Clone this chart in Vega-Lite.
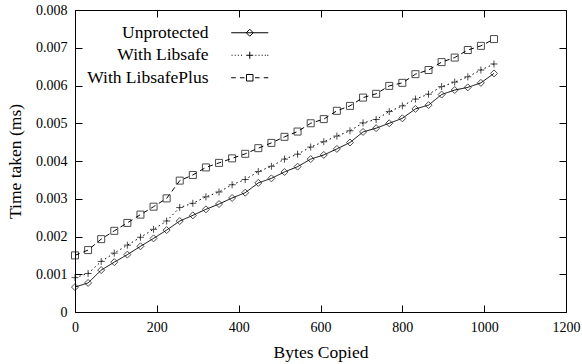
{
  "$schema": "https://vega.github.io/schema/vega-lite/v6.json",
  "width": 491,
  "height": 302,
  "autosize": {"type": "none"},
  "padding": {"left": 75, "top": 10, "right": 16, "bottom": 52},
  "background": "white",
  "data": {"values": [
    {"series": "Unprotected", "bytes": 0, "time": 0.00066},
    {"series": "Unprotected", "bytes": 32, "time": 0.00077},
    {"series": "Unprotected", "bytes": 64, "time": 0.00111},
    {"series": "Unprotected", "bytes": 96, "time": 0.00132},
    {"series": "Unprotected", "bytes": 128, "time": 0.00152},
    {"series": "Unprotected", "bytes": 160, "time": 0.00174},
    {"series": "Unprotected", "bytes": 192, "time": 0.00195},
    {"series": "Unprotected", "bytes": 224, "time": 0.00217},
    {"series": "Unprotected", "bytes": 256, "time": 0.00241},
    {"series": "Unprotected", "bytes": 288, "time": 0.00256},
    {"series": "Unprotected", "bytes": 320, "time": 0.00272},
    {"series": "Unprotected", "bytes": 352, "time": 0.00286},
    {"series": "Unprotected", "bytes": 384, "time": 0.00302},
    {"series": "Unprotected", "bytes": 416, "time": 0.00316},
    {"series": "Unprotected", "bytes": 448, "time": 0.00342},
    {"series": "Unprotected", "bytes": 480, "time": 0.00354},
    {"series": "Unprotected", "bytes": 512, "time": 0.00371},
    {"series": "Unprotected", "bytes": 544, "time": 0.00385},
    {"series": "Unprotected", "bytes": 576, "time": 0.00405},
    {"series": "Unprotected", "bytes": 608, "time": 0.00416},
    {"series": "Unprotected", "bytes": 640, "time": 0.00432},
    {"series": "Unprotected", "bytes": 672, "time": 0.00449},
    {"series": "Unprotected", "bytes": 704, "time": 0.00477},
    {"series": "Unprotected", "bytes": 736, "time": 0.00487},
    {"series": "Unprotected", "bytes": 768, "time": 0.00500},
    {"series": "Unprotected", "bytes": 800, "time": 0.00513},
    {"series": "Unprotected", "bytes": 832, "time": 0.00538},
    {"series": "Unprotected", "bytes": 864, "time": 0.00548},
    {"series": "Unprotected", "bytes": 896, "time": 0.00576},
    {"series": "Unprotected", "bytes": 928, "time": 0.00588},
    {"series": "Unprotected", "bytes": 960, "time": 0.00595},
    {"series": "Unprotected", "bytes": 992, "time": 0.00607},
    {"series": "Unprotected", "bytes": 1024, "time": 0.00632},
    {"series": "With Libsafe", "bytes": 0, "time": 0.00091},
    {"series": "With Libsafe", "bytes": 32, "time": 0.00102},
    {"series": "With Libsafe", "bytes": 64, "time": 0.00134},
    {"series": "With Libsafe", "bytes": 96, "time": 0.00156},
    {"series": "With Libsafe", "bytes": 128, "time": 0.00177},
    {"series": "With Libsafe", "bytes": 160, "time": 0.00198},
    {"series": "With Libsafe", "bytes": 192, "time": 0.00219},
    {"series": "With Libsafe", "bytes": 224, "time": 0.00241},
    {"series": "With Libsafe", "bytes": 256, "time": 0.00277},
    {"series": "With Libsafe", "bytes": 288, "time": 0.00288},
    {"series": "With Libsafe", "bytes": 320, "time": 0.00305},
    {"series": "With Libsafe", "bytes": 352, "time": 0.00318},
    {"series": "With Libsafe", "bytes": 384, "time": 0.00337},
    {"series": "With Libsafe", "bytes": 416, "time": 0.00351},
    {"series": "With Libsafe", "bytes": 448, "time": 0.00372},
    {"series": "With Libsafe", "bytes": 480, "time": 0.00386},
    {"series": "With Libsafe", "bytes": 512, "time": 0.00405},
    {"series": "With Libsafe", "bytes": 544, "time": 0.00418},
    {"series": "With Libsafe", "bytes": 576, "time": 0.00437},
    {"series": "With Libsafe", "bytes": 608, "time": 0.00451},
    {"series": "With Libsafe", "bytes": 640, "time": 0.00466},
    {"series": "With Libsafe", "bytes": 672, "time": 0.00480},
    {"series": "With Libsafe", "bytes": 704, "time": 0.00501},
    {"series": "With Libsafe", "bytes": 736, "time": 0.00510},
    {"series": "With Libsafe", "bytes": 768, "time": 0.00531},
    {"series": "With Libsafe", "bytes": 800, "time": 0.00546},
    {"series": "With Libsafe", "bytes": 832, "time": 0.00564},
    {"series": "With Libsafe", "bytes": 864, "time": 0.00577},
    {"series": "With Libsafe", "bytes": 896, "time": 0.00597},
    {"series": "With Libsafe", "bytes": 928, "time": 0.00609},
    {"series": "With Libsafe", "bytes": 960, "time": 0.00623},
    {"series": "With Libsafe", "bytes": 992, "time": 0.00641},
    {"series": "With Libsafe", "bytes": 1024, "time": 0.00657},
    {"series": "With LibsafePlus", "bytes": 0, "time": 0.00150},
    {"series": "With LibsafePlus", "bytes": 32, "time": 0.00164},
    {"series": "With LibsafePlus", "bytes": 64, "time": 0.00193},
    {"series": "With LibsafePlus", "bytes": 96, "time": 0.00215},
    {"series": "With LibsafePlus", "bytes": 128, "time": 0.00236},
    {"series": "With LibsafePlus", "bytes": 160, "time": 0.00258},
    {"series": "With LibsafePlus", "bytes": 192, "time": 0.00279},
    {"series": "With LibsafePlus", "bytes": 224, "time": 0.00301},
    {"series": "With LibsafePlus", "bytes": 256, "time": 0.00348},
    {"series": "With LibsafePlus", "bytes": 288, "time": 0.00363},
    {"series": "With LibsafePlus", "bytes": 320, "time": 0.00383},
    {"series": "With LibsafePlus", "bytes": 352, "time": 0.00395},
    {"series": "With LibsafePlus", "bytes": 384, "time": 0.00407},
    {"series": "With LibsafePlus", "bytes": 416, "time": 0.00419},
    {"series": "With LibsafePlus", "bytes": 448, "time": 0.00434},
    {"series": "With LibsafePlus", "bytes": 480, "time": 0.00448},
    {"series": "With LibsafePlus", "bytes": 512, "time": 0.00464},
    {"series": "With LibsafePlus", "bytes": 544, "time": 0.00478},
    {"series": "With LibsafePlus", "bytes": 576, "time": 0.00500},
    {"series": "With LibsafePlus", "bytes": 608, "time": 0.00511},
    {"series": "With LibsafePlus", "bytes": 640, "time": 0.00533},
    {"series": "With LibsafePlus", "bytes": 672, "time": 0.00546},
    {"series": "With LibsafePlus", "bytes": 704, "time": 0.00568},
    {"series": "With LibsafePlus", "bytes": 736, "time": 0.00578},
    {"series": "With LibsafePlus", "bytes": 768, "time": 0.00599},
    {"series": "With LibsafePlus", "bytes": 800, "time": 0.00607},
    {"series": "With LibsafePlus", "bytes": 832, "time": 0.00630},
    {"series": "With LibsafePlus", "bytes": 864, "time": 0.00641},
    {"series": "With LibsafePlus", "bytes": 896, "time": 0.00662},
    {"series": "With LibsafePlus", "bytes": 928, "time": 0.00674},
    {"series": "With LibsafePlus", "bytes": 960, "time": 0.00694},
    {"series": "With LibsafePlus", "bytes": 992, "time": 0.00705},
    {"series": "With LibsafePlus", "bytes": 1024, "time": 0.00723}
  ]},
  "layer": [
    {
      "mark": {"type": "line", "color": "black", "strokeWidth": 1},
      "encoding": {
        "x": {"field": "bytes", "type": "quantitative", "scale": {"domain": [0, 1200], "nice": false},
          "axis": {"orient": "bottom", "values": [0, 200, 400, 600, 800, 1000, 1200], "format": "d", "tickSize": -7, "labelPadding": 15, "labelFlush": false, "labelFont": "Liberation Serif", "labelFontSize": 14, "title": "Bytes Copied", "titleBaseline": "middle", "titleY": 40}},
        "y": {"field": "time", "type": "quantitative", "scale": {"domain": [0, 0.008], "nice": false},
          "axis": {"orient": "left", "values": [0, 0.001, 0.002, 0.003, 0.004, 0.005, 0.006, 0.007, 0.008], "format": ".3~f", "tickSize": -7, "labelPadding": 15, "labelFlush": false, "labelFont": "Liberation Serif", "labelFontSize": 14, "title": "Time taken (ms)", "titleAngle": -90, "titleBaseline": "middle", "titleX": -60, "titleY": 151}},
        "strokeDash": {"field": "series", "type": "nominal",
          "scale": {"range": [[1, 0], [1.5, 3], [5, 4]]},
          "legend": null}
      }
    },
    {
      "mark": {"type": "point", "filled": false, "color": "black", "strokeWidth": 1, "size": 49},
      "encoding": {
        "x": {"field": "bytes", "type": "quantitative", "scale": {"domain": [0, 1200], "nice": false},
          "axis": {"orient": "top", "values": [0, 200, 400, 600, 800, 1000, 1200], "labels": false, "tickSize": -7, "title": null}},
        "y": {"field": "time", "type": "quantitative", "scale": {"domain": [0, 0.008], "nice": false},
          "axis": {"orient": "right", "values": [0, 0.001, 0.002, 0.003, 0.004, 0.005, 0.006, 0.007, 0.008], "labels": false, "tickSize": -7, "title": null}},
        "shape": {"field": "series", "type": "nominal",
          "scale": {"domain": ["Unprotected", "With Libsafe", "With LibsafePlus"], "range": ["diamond", "M-1,0H1M0,-1V1", "square"]},
          "legend": null}
      }
    },
    {
      "mark": {"type": "point", "filled": false, "color": "black", "strokeWidth": 1, "size": 49, "opacity": 0},
      "encoding": {
        "x": {"field": "bytes", "type": "quantitative", "scale": {"domain": [0, 1200], "nice": false}, "axis": null},
        "y": {"field": "time", "type": "quantitative", "scale": {"domain": [0, 0.008], "nice": false}, "axis": null},
        "shape": {"field": "series", "type": "nominal",
          "scale": {"domain": ["Unprotected", "With Libsafe", "With LibsafePlus"],
            "range": [
              "M-5.3,0H5.3M0,-1L1,0L0,1L-1,0Z",
              "M-5.2,0h0.3M-4.3,0h0.3M-3.4,0h0.3M-2.5,0h0.3M1.6,0h0.3M2.5,0h0.3M3.4,0h0.3M4.3,0h0.3M5.0,0h0.3M-1,0H1M0,-1V1",
              "M-5.3,0H-4M-2.8,0H-1.5M1.5,0H2.8M4,0H5.3M-0.93,-0.93H0.93V0.93H-0.93Z"
            ]},
          "legend": {
            "orient": "none", "legendX": 166, "legendY": 14, "title": null,
            "symbolSize": 49, "symbolStrokeWidth": 1, "symbolStrokeColor": "black", "symbolOpacity": 1,
            "labelFont": "Liberation Serif", "labelFontSize": 17.5, "labelColor": "black",
            "labelAlign": "right", "labelOffset": -50, "rowPadding": 3.5, "padding": 0}
        }
      }
    }
  ],
  "resolve": {"scale": {"shape": "independent"}, "axis": {"x": "independent", "y": "independent"}},
  "config": {
    "view": {"stroke": "black", "strokeWidth": 1},
    "axis": {"labelFont": "Liberation Serif", "labelFontSize": 14, "labelColor": "black",
      "titleFont": "Liberation Serif", "titleFontSize": 17.5, "titleFontWeight": "normal", "titleColor": "black",
      "tickColor": "black", "tickWidth": 1, "grid": false, "domain": false}
  }
}
